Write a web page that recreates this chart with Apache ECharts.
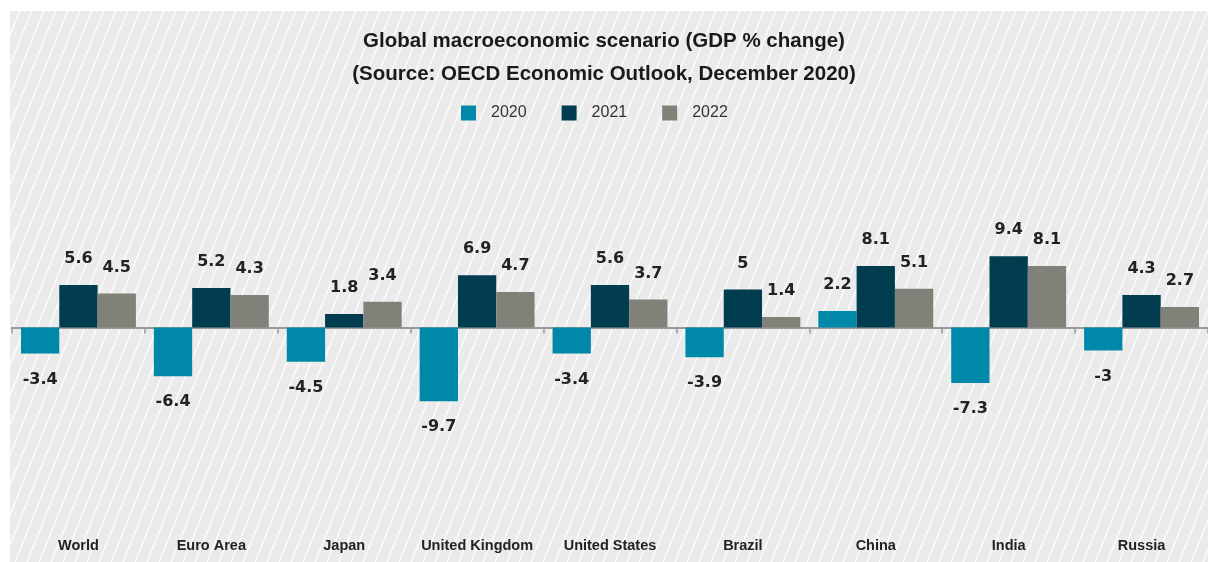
<!DOCTYPE html>
<html>
<head>
<meta charset="utf-8">
<script src="https://cdn.jsdelivr.net/npm/echarts@6/dist/echarts.min.js"></script>
<style>
html,body{margin:0;padding:0;background:#fff;}
#chart{width:1208px;height:562px;}
</style>
</head>
<body>
<div id="chart"></div>
<script>
const categories = ['World','Euro Area','Japan','United Kingdom','United States','Brazil','China','India','Russia'];
const seriesNames = ['2020','2021','2022'];
const gdp2020 = [-3.4,-6.4,-4.5,-9.7,-3.4,-3.9,2.2,-7.3,-3];
const gdp2021 = [5.6,5.2,1.8,6.9,5.6,5,8.1,9.4,4.3];
const gdp2022 = [4.5,4.3,3.4,4.7,3.7,1.4,5.1,8.1,2.7];
const titleLines = ['Global macroeconomic scenario (GDP % change)','(Source: OECD Economic Outlook, December 2020)'];
const colors = ['#0088a8','#013d4f','#81817a'];

// hatch pattern tile
const tile = document.createElement('canvas');
tile.width = 12; tile.height = 30;
const tc = tile.getContext('2d');
tc.fillStyle = '#ebebeb';
tc.fillRect(0,0,12,30);
tc.strokeStyle = '#ffffff';
tc.lineWidth = 1.2;
for (let x0 = -12; x0 <= 12; x0 += 12) {
  tc.beginPath();
  tc.moveTo(x0, 30);
  tc.lineTo(x0 + 12, 0);
  tc.stroke();
}

function mk(vals){
  return vals.map(v => ({
    value: v,
    label: { position: v < 0 ? 'bottom' : 'top' }
  }));
}

const titleStyle = {
  fontFamily: 'Liberation Sans',
  fontWeight: 'bold',
  fontSize: 20.5,
  color: '#1a1a1a'
};

const chart = echarts.init(document.getElementById('chart'));
const allData = [gdp2020, gdp2021, gdp2022];
chart.setOption({
  backgroundColor: '#ffffff',
  animation: false,
  graphic: [{
    type: 'rect',
    z: -10,
    silent: true,
    shape: { x: 10, y: 11, width: 1198, height: 551 },
    style: { fill: { image: tile, repeat: 'repeat' } }
  }],
  title: [
    { text: titleLines[0], left: 'center', top: 31, padding: 0, textStyle: titleStyle },
    { text: titleLines[1], left: 'center', top: 64, padding: 0, textStyle: titleStyle }
  ],
  legend: {
    data: seriesNames,
    left: 461,
    top: 105,
    padding: 0,
    itemWidth: 15,
    itemHeight: 15,
    itemGap: 35,
    icon: 'rect',
    textStyle: {
      fontFamily: 'Liberation Sans',
      fontSize: 16,
      color: '#333',
      padding: [0,0,0,10]
    }
  },
  grid: { left: 12, top: 130, width: 1197, height: 395.2, containLabel: false },
  xAxis: [{
    type: 'category',
    data: categories,
    position: 'bottom',
    axisLine: { onZero: true, lineStyle: { color: '#9a9a9a', width: 2 } },
    axisTick: { show: true, length: 6, lineStyle: { color: '#9a9a9a', width: 1.5 } },
    axisLabel: { show: false }
  },{
    type: 'category',
    data: categories,
    position: 'bottom',
    axisLine: { show: false, onZero: false },
    axisTick: { show: false },
    axisLabel: {
      show: true,
      interval: 0,
      margin: 13,
      fontFamily: 'Liberation Sans',
      fontWeight: 'bold',
      fontSize: 14.5,
      color: '#222'
    }
  }],
  yAxis: {
    type: 'value',
    min: -26,
    max: 26,
    show: false,
    splitLine: { show: false }
  },
  series: seriesNames.map((name, i) => ({
    name: name,
    type: 'bar',
    xAxisIndex: 0,
    data: mk(allData[i]),
    barWidth: 38.3,
    barGap: '0%',
    itemStyle: { color: colors[i] },
    label: {
      show: true,
      distance: 18,
      fontFamily: 'DejaVu Sans',
      fontWeight: 'bold',
      fontSize: 16,
      color: '#222'
    }
  }))
});
</script>
</body>
</html>
